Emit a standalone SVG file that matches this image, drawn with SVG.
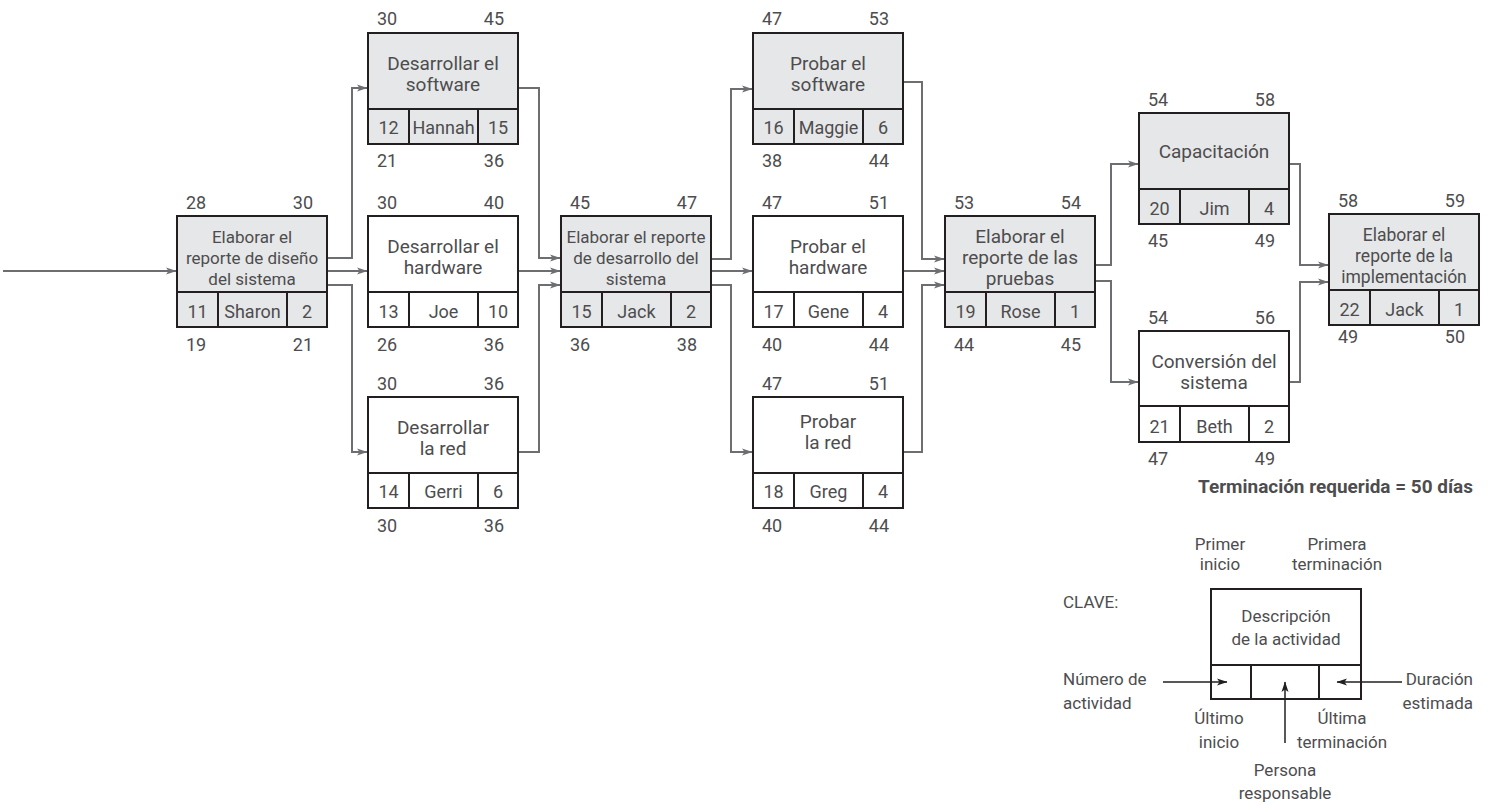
<svg xmlns="http://www.w3.org/2000/svg" width="1491" height="804" viewBox="0 0 1491 804">
<style>
.box{stroke:#231f20;stroke-width:2}
.crit{fill:#e6e7e8}
.norm{fill:#ffffff}
.div{stroke:#231f20;stroke-width:2}
text{font-family:Roboto,"Liberation Sans",sans-serif;fill:#4d4d4f}
.lb{font-size:18px}
.d2{font-size:19px;text-anchor:middle}
.d3{font-size:17px;text-anchor:middle}
.cell{font-size:18px;text-anchor:middle}
.m{text-anchor:middle}
.e{text-anchor:end}
.k{font-size:17px}
.conn{fill:none;stroke:#6d6e71;stroke-width:2}
.kar{fill:none;stroke:#231f20;stroke-width:1.5}
</style>
<defs>
<marker id="ah" markerWidth="11" markerHeight="8" refX="10" refY="4" orient="auto" markerUnits="userSpaceOnUse">
<path d="M0,0.5 L10.5,4 L0,7.5 L2.5,4 z" fill="#6d6e71"/>
</marker>
<marker id="kh" markerWidth="11" markerHeight="8" refX="10" refY="4" orient="auto" markerUnits="userSpaceOnUse">
<path d="M0,0.5 L10.5,4 L0,7.5 L2.5,4 z" fill="#231f20"/>
</marker>
</defs>
<rect width="1491" height="804" fill="#ffffff"/>

<g id="connectors">
<path class="conn" marker-end="url(#ah)" d="M3,271 H176"/>
<path class="conn" marker-end="url(#ah)" d="M327,258 H352 V88 H367"/>
<path class="conn" marker-end="url(#ah)" d="M327,271 H367"/>
<path class="conn" marker-end="url(#ah)" d="M327,285 H352 V452 H367"/>
<path class="conn" marker-end="url(#ah)" d="M518,88 H539 V258 H560"/>
<path class="conn" marker-end="url(#ah)" d="M518,271 H560"/>
<path class="conn" marker-end="url(#ah)" d="M518,452 H539 V285 H560"/>
<path class="conn" marker-end="url(#ah)" d="M711,259 H731 V89 H752"/>
<path class="conn" marker-end="url(#ah)" d="M711,271 H752"/>
<path class="conn" marker-end="url(#ah)" d="M711,285 H731 V452 H752"/>
<path class="conn" marker-end="url(#ah)" d="M903,82 H922 V259 H944"/>
<path class="conn" marker-end="url(#ah)" d="M903,271 H944"/>
<path class="conn" marker-end="url(#ah)" d="M903,452 H922 V285 H944"/>
<path class="conn" marker-end="url(#ah)" d="M1095,265 H1111 V164 H1138"/>
<path class="conn" marker-end="url(#ah)" d="M1095,281 H1111 V382 H1138"/>
<path class="conn" marker-end="url(#ah)" d="M1289,164 H1300 V265 H1328"/>
<path class="conn" marker-end="url(#ah)" d="M1289,382 H1300 V282 H1328"/>
</g>

<g id="n11">
<rect class="box crit" x="177" y="216" width="150" height="111"/>
<line class="div" x1="177" y1="292" x2="327" y2="292"/>
<line class="div" x1="218" y1="292" x2="218" y2="327"/>
<line class="div" x1="287" y1="292" x2="287" y2="327"/>
<text class="d3" x="252" y="243">Elaborar el</text>
<text class="d3" x="252" y="264">reporte de diseño</text>
<text class="d3" x="252" y="285">del sistema</text>
<text class="cell" x="197.5" y="318">11</text>
<text class="cell" x="252.5" y="318">Sharon</text>
<text class="cell" x="307" y="318">2</text>
<text class="lb" x="186" y="209">28</text>
<text class="lb e" x="313" y="209">30</text>
<text class="lb" x="186" y="351">19</text>
<text class="lb e" x="313" y="351">21</text>
</g>

<g id="n12">
<rect class="box crit" x="368" y="33" width="150" height="111"/>
<line class="div" x1="368" y1="109" x2="518" y2="109"/>
<line class="div" x1="409" y1="109" x2="409" y2="144"/>
<line class="div" x1="478" y1="109" x2="478" y2="144"/>
<text class="d2" x="443" y="69.5">Desarrollar el</text>
<text class="d2" x="443" y="90.5">software</text>
<text class="cell" x="388.5" y="134">12</text>
<text class="cell" x="443.5" y="134">Hannah</text>
<text class="cell" x="498" y="134">15</text>
<text class="lb" x="377" y="25">30</text>
<text class="lb e" x="504" y="25">45</text>
<text class="lb" x="377" y="167">21</text>
<text class="lb e" x="504" y="167">36</text>
</g>

<g id="n13">
<rect class="box norm" x="368" y="216" width="150" height="111"/>
<line class="div" x1="368" y1="292" x2="518" y2="292"/>
<line class="div" x1="409" y1="292" x2="409" y2="327"/>
<line class="div" x1="478" y1="292" x2="478" y2="327"/>
<text class="d2" x="443" y="253">Desarrollar el</text>
<text class="d2" x="443" y="274">hardware</text>
<text class="cell" x="388.5" y="318">13</text>
<text class="cell" x="443.5" y="318">Joe</text>
<text class="cell" x="498" y="318">10</text>
<text class="lb" x="377" y="209">30</text>
<text class="lb e" x="504" y="209">40</text>
<text class="lb" x="377" y="351">26</text>
<text class="lb e" x="504" y="351">36</text>
</g>

<g id="n14">
<rect class="box norm" x="368" y="397" width="150" height="111"/>
<line class="div" x1="368" y1="473" x2="518" y2="473"/>
<line class="div" x1="409" y1="473" x2="409" y2="508"/>
<line class="div" x1="478" y1="473" x2="478" y2="508"/>
<text class="d2" x="443" y="434">Desarrollar</text>
<text class="d2" x="443" y="455">la red</text>
<text class="cell" x="388.5" y="498">14</text>
<text class="cell" x="443.5" y="498">Gerri</text>
<text class="cell" x="498" y="498">6</text>
<text class="lb" x="377" y="390">30</text>
<text class="lb e" x="504" y="390">36</text>
<text class="lb" x="377" y="532">30</text>
<text class="lb e" x="504" y="532">36</text>
</g>

<g id="n15">
<rect class="box crit" x="561" y="216" width="150" height="111"/>
<line class="div" x1="561" y1="292" x2="711" y2="292"/>
<line class="div" x1="602" y1="292" x2="602" y2="327"/>
<line class="div" x1="671" y1="292" x2="671" y2="327"/>
<text class="d3" x="636" y="243">Elaborar el reporte</text>
<text class="d3" x="636" y="264">de desarrollo del</text>
<text class="d3" x="636" y="285">sistema</text>
<text class="cell" x="581.5" y="318">15</text>
<text class="cell" x="636.5" y="318">Jack</text>
<text class="cell" x="691" y="318">2</text>
<text class="lb" x="570" y="209">45</text>
<text class="lb e" x="697" y="209">47</text>
<text class="lb" x="570" y="351">36</text>
<text class="lb e" x="697" y="351">38</text>
</g>

<g id="n16">
<rect class="box crit" x="753" y="33" width="150" height="111"/>
<line class="div" x1="753" y1="109" x2="903" y2="109"/>
<line class="div" x1="794" y1="109" x2="794" y2="144"/>
<line class="div" x1="863" y1="109" x2="863" y2="144"/>
<text class="d2" x="828" y="69.5">Probar el</text>
<text class="d2" x="828" y="90.5">software</text>
<text class="cell" x="773.5" y="134">16</text>
<text class="cell" x="828.5" y="134">Maggie</text>
<text class="cell" x="883" y="134">6</text>
<text class="lb" x="762" y="25">47</text>
<text class="lb e" x="889" y="25">53</text>
<text class="lb" x="762" y="167">38</text>
<text class="lb e" x="889" y="167">44</text>
</g>

<g id="n17">
<rect class="box norm" x="753" y="216" width="150" height="111"/>
<line class="div" x1="753" y1="292" x2="903" y2="292"/>
<line class="div" x1="794" y1="292" x2="794" y2="327"/>
<line class="div" x1="863" y1="292" x2="863" y2="327"/>
<text class="d2" x="828" y="253">Probar el</text>
<text class="d2" x="828" y="274">hardware</text>
<text class="cell" x="773.5" y="318">17</text>
<text class="cell" x="828.5" y="318">Gene</text>
<text class="cell" x="883" y="318">4</text>
<text class="lb" x="762" y="209">47</text>
<text class="lb e" x="889" y="209">51</text>
<text class="lb" x="762" y="351">40</text>
<text class="lb e" x="889" y="351">44</text>
</g>

<g id="n18">
<rect class="box norm" x="753" y="397" width="150" height="111"/>
<line class="div" x1="753" y1="473" x2="903" y2="473"/>
<line class="div" x1="794" y1="473" x2="794" y2="508"/>
<line class="div" x1="863" y1="473" x2="863" y2="508"/>
<text class="d2" x="828" y="428">Probar</text>
<text class="d2" x="828" y="449">la red</text>
<text class="cell" x="773.5" y="498">18</text>
<text class="cell" x="828.5" y="498">Greg</text>
<text class="cell" x="883" y="498">4</text>
<text class="lb" x="762" y="390">47</text>
<text class="lb e" x="889" y="390">51</text>
<text class="lb" x="762" y="532">40</text>
<text class="lb e" x="889" y="532">44</text>
</g>

<g id="n19">
<rect class="box crit" x="945" y="216" width="150" height="111"/>
<line class="div" x1="945" y1="292" x2="1095" y2="292"/>
<line class="div" x1="986" y1="292" x2="986" y2="327"/>
<line class="div" x1="1055" y1="292" x2="1055" y2="327"/>
<text class="d2" x="1020" y="243">Elaborar el</text>
<text class="d2" x="1020" y="264">reporte de las</text>
<text class="d2" x="1020" y="285">pruebas</text>
<text class="cell" x="965.5" y="318">19</text>
<text class="cell" x="1020.5" y="318">Rose</text>
<text class="cell" x="1075" y="318">1</text>
<text class="lb" x="954" y="209">53</text>
<text class="lb e" x="1081" y="209">54</text>
<text class="lb" x="954" y="351">44</text>
<text class="lb e" x="1081" y="351">45</text>
</g>

<g id="n20">
<rect class="box crit" x="1139" y="113" width="150" height="111"/>
<line class="div" x1="1139" y1="189" x2="1289" y2="189"/>
<line class="div" x1="1180" y1="189" x2="1180" y2="224"/>
<line class="div" x1="1249" y1="189" x2="1249" y2="224"/>
<text class="d2" x="1214" y="158">Capacitación</text>
<text class="cell" x="1159.5" y="215">20</text>
<text class="cell" x="1214.5" y="215">Jim</text>
<text class="cell" x="1269" y="215">4</text>
<text class="lb" x="1148" y="106">54</text>
<text class="lb e" x="1275" y="106">58</text>
<text class="lb" x="1148" y="247">45</text>
<text class="lb e" x="1275" y="247">49</text>
</g>

<g id="n21">
<rect class="box norm" x="1139" y="331" width="150" height="111"/>
<line class="div" x1="1139" y1="406" x2="1289" y2="406"/>
<line class="div" x1="1180" y1="406" x2="1180" y2="442"/>
<line class="div" x1="1249" y1="406" x2="1249" y2="442"/>
<text class="d2" x="1214" y="368">Conversión del</text>
<text class="d2" x="1214" y="389">sistema</text>
<text class="cell" x="1159.5" y="433">21</text>
<text class="cell" x="1214.5" y="433">Beth</text>
<text class="cell" x="1269" y="433">2</text>
<text class="lb" x="1148" y="324">54</text>
<text class="lb e" x="1275" y="324">56</text>
<text class="lb" x="1148" y="465">47</text>
<text class="lb e" x="1275" y="465">49</text>
</g>

<g id="n22">
<rect class="box crit" x="1329" y="214" width="150" height="111"/>
<line class="div" x1="1329" y1="290" x2="1479" y2="290"/>
<line class="div" x1="1370" y1="290" x2="1370" y2="325"/>
<line class="div" x1="1439" y1="290" x2="1439" y2="325"/>
<text class="d3" x="1404" y="241" style="font-size:17.5px">Elaborar el</text>
<text class="d3" x="1404" y="262" style="font-size:17.5px">reporte de la</text>
<text class="d3" x="1404" y="283" style="font-size:17.5px">implementación</text>
<text class="cell" x="1349.5" y="316">22</text>
<text class="cell" x="1404.5" y="316">Jack</text>
<text class="cell" x="1459" y="316">1</text>
<text class="lb" x="1338" y="207">58</text>
<text class="lb e" x="1465" y="207">59</text>
<text class="lb" x="1338" y="343">49</text>
<text class="lb e" x="1465" y="343">50</text>
</g>

<g id="note">
<text x="1198" y="493" textLength="275" lengthAdjust="spacingAndGlyphs" style="font-size:18.5px;font-weight:bold">Terminación requerida = 50 días</text>
</g>

<g id="key">
<text class="k m" x="1220" y="550">Primer</text>
<text class="k m" x="1220" y="570">inicio</text>
<text class="k m" x="1337" y="550">Primera</text>
<text class="k m" x="1337" y="570">terminación</text>
<text class="k" x="1063" y="608">CLAVE:</text>
<rect class="box norm" x="1211" y="589" width="150" height="110"/>
<line class="div" x1="1211" y1="665" x2="1361" y2="665"/>
<line class="div" x1="1251" y1="665" x2="1251" y2="699"/>
<line class="div" x1="1319" y1="665" x2="1319" y2="699"/>
<text class="k m" x="1286" y="622">Descripción</text>
<text class="k m" x="1286" y="645">de la actividad</text>
<text class="k" x="1063" y="685">Número de</text>
<text class="k" x="1063" y="709">actividad</text>
<text class="k e" x="1473" y="685">Duración</text>
<text class="k e" x="1473" y="709">estimada</text>
<text class="k m" x="1219" y="724">Último</text>
<text class="k m" x="1219" y="748">inicio</text>
<text class="k m" x="1342" y="724">Última</text>
<text class="k m" x="1342" y="748">terminación</text>
<text class="k m" x="1285" y="776">Persona</text>
<text class="k m" x="1285" y="799">responsable</text>
<path class="kar" marker-end="url(#kh)" d="M1163,682 H1227"/>
<path class="kar" marker-end="url(#kh)" d="M1402,682 H1337"/>
<path class="kar" marker-end="url(#kh)" d="M1285,743 V682"/>
</g>
</svg>
